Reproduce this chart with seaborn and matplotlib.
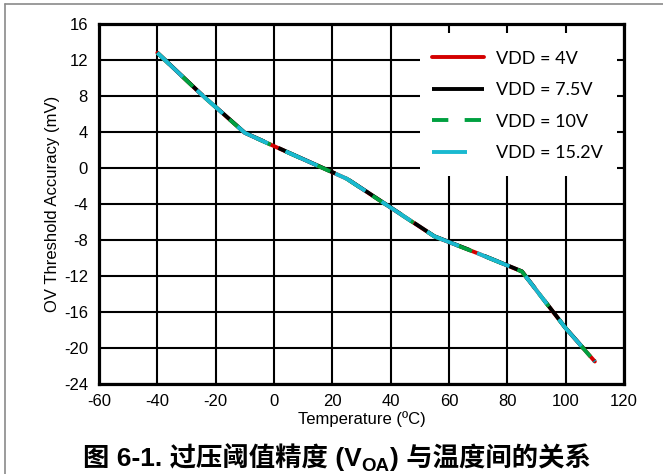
import numpy as np
import pandas as pd
import matplotlib
matplotlib.use("Agg")
import matplotlib.pyplot as plt
import seaborn as sns
from matplotlib.patches import Rectangle
from matplotlib.lines import Line2D

# ---- data ----
temps = [-40, -25, -10, 5, 25, 40, 55, 70, 85, 100, 110]
vdd_4v = [12.8, 8.2, 3.9, 1.7, -1.2, -4.4, -7.6, -9.5, -11.5, -17.8, -21.5]
vdd_7v5 = [12.82, 8.22, 3.92, 1.72, -1.18, -4.38, -7.58, -9.48, -11.48, -17.78, -21.48]
vdd_10v = [12.79, 8.19, 3.89, 1.69, -1.21, -4.41, -7.61, -9.51, -11.51, -17.81, -21.51]
vdd_15v2 = [12.8, 8.2, 3.9, 1.7, -1.2, -4.4, -7.6, -9.5, -11.5, -17.8, -21.5]
series_labels = ["VDD = 4V", "VDD = 7.5V", "VDD = 10V", "VDD = 15.2V"]
series_colors = ["#D40000", "#000000", "#00A040", "#1AB9D0"]
x_ticks = list(range(-60, 121, 20))
y_ticks = list(range(-24, 17, 4))

rows = []
for lab, vals in zip(series_labels, [vdd_4v, vdd_7v5, vdd_10v, vdd_15v2]):
    for t, v in zip(temps, vals):
        rows.append({"Temperature": t, "Accuracy": v, "Series": lab})
df = pd.DataFrame(rows)

sns.set_theme(style="white")
plt.rcParams["font.family"] = ["Liberation Sans", "DejaVu Sans"]
plt.rcParams["axes.unicode_minus"] = False

W, H = 663, 474
fig = plt.figure(figsize=(W / 100, H / 100), dpi=100)
ax = fig.add_axes([99 / W, 1 - 384 / H, 525 / W, 360 / H])

palette = dict(zip(series_labels, series_colors))
dashes = {
    "VDD = 4V": "",
    "VDD = 7.5V": (16, 4),
    "VDD = 10V": (4.2, 4.2),
    "VDD = 15.2V": (9, 5),
}
sns.lineplot(data=df, x="Temperature", y="Accuracy", hue="Series", style="Series",
             hue_order=series_labels, style_order=series_labels,
             palette=palette, dashes=dashes, linewidth=2.8, ax=ax, zorder=3,
             estimator=None, sort=False)

ax.set_xlim(-60, 120)
ax.set_ylim(-24, 16)
ax.set_xticks(x_ticks)
ax.set_yticks(y_ticks)
ax.set_axisbelow(True)
ax.grid(True, color="black", linewidth=1.5)
for s in ax.spines.values():
    s.set_visible(True)
    s.set_color("black")
    s.set_linewidth(2.3)
ax.tick_params(axis="both", length=0, labelsize=12, colors="black")
ax.tick_params(axis="y", pad=8)
ax.tick_params(axis="x", pad=7)
ax.set_xlabel("Temperature (ºC)", fontsize=12, color="black", labelpad=2)
ax.set_ylabel("OV Threshold Accuracy (mV)", fontsize=12, color="black", labelpad=3)

# legend area (white box over the grid)
ax.add_patch(Rectangle((0.611, 0.578), 0.376, 0.397, transform=ax.transAxes,
                       facecolor="white", edgecolor="none", zorder=1))
handles, labels = ax.get_legend_handles_labels()
leg = ax.legend(handles, labels, loc="upper left", bbox_to_anchor=(0.634, 0.926),
                frameon=False, borderpad=0, borderaxespad=0, handlelength=2.9,
                handletextpad=0.65, labelspacing=0.86,
                prop={"family": "Lato", "size": 13})
for t in leg.get_texts():
    t.set_color("black")

# outer frame lines (top and left)
fig.add_artist(Line2D([4.5 / W, 4.5 / W], [0, 1 - 3.5 / H], transform=fig.transFigure,
                      color="#8a8a8a", linewidth=1.2))
fig.add_artist(Line2D([4.5 / W, 1], [1 - 3.5 / H, 1 - 3.5 / H], transform=fig.transFigure,
                      color="#8a8a8a", linewidth=1.2))

# caption with subscript
cap_font = ["Liberation Sans", "Noto Sans CJK SC"]
base_y = 1 - 466 / H
fig.canvas.draw()
renderer = fig.canvas.get_renderer()
t1 = fig.text(83 / W, base_y, "图 6-1. 过压阈值精度 (V", fontsize=19, fontweight="bold",
              family=cap_font, va="baseline", ha="left", color="black")
x1 = t1.get_window_extent(renderer).x1 / W
t2 = fig.text(x1, base_y - 5 / H, "OA", fontsize=13.5, fontweight="bold",
              family=cap_font, va="baseline", ha="left", color="black")
x2 = t2.get_window_extent(renderer).x1 / W
t3 = fig.text(x2, base_y, ") 与温度间的关系", fontsize=19, fontweight="bold",
              family=cap_font, va="baseline", ha="left", color="black")

fig.savefig("out.png", dpi=100)
